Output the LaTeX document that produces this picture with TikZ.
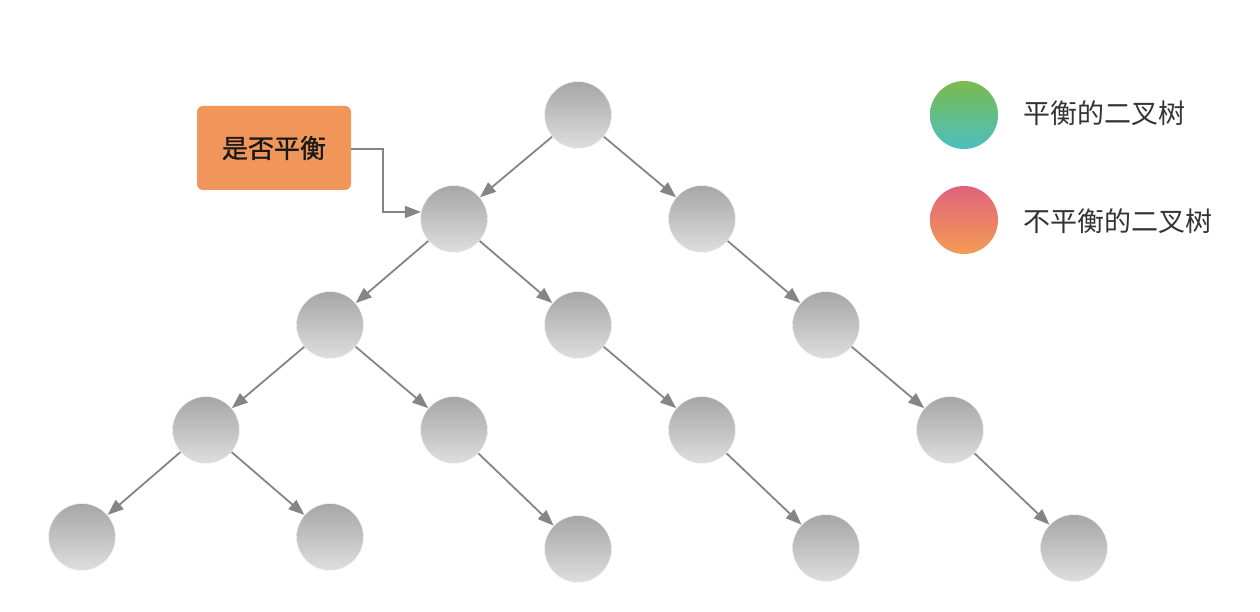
\documentclass[tikz,border=0pt]{standalone}
\usepackage{fontspec}
\newfontfamily\cjk{Noto Sans CJK SC}
\newfontfamily\cjkbold[FakeBold=1.2]{Noto Sans CJK SC}
\usetikzlibrary{arrows.meta}
\definecolor{nodetop}{HTML}{A6A6A6}
\definecolor{nodebot}{HTML}{DEDEDE}
\definecolor{edgegray}{HTML}{858585}
\definecolor{greentop}{HTML}{7ABB4B}
\definecolor{greenbot}{HTML}{4CBFC2}
\definecolor{redtop}{HTML}{E0637B}
\definecolor{redbot}{HTML}{F39C55}
\definecolor{boxorange}{HTML}{F0965A}
\definecolor{txtdark}{HTML}{333333}
\tikzset{
  treenode/.style={circle, minimum size=67pt, inner sep=0pt, top color=nodetop, bottom color=nodebot, draw=white!92!gray, line width=0.6pt},
  goodnode/.style={circle, minimum size=68pt, inner sep=0pt, top color=greentop, bottom color=greenbot},
  badnode/.style={circle, minimum size=68pt, inner sep=0pt, top color=redtop, bottom color=redbot},
  edge/.style={draw=edgegray, line width=1.8pt, -{Triangle[length=16pt,width=12pt]}},
  askbox/.style={rectangle, rounded corners=6pt, fill=boxorange, minimum width=154pt, minimum height=84pt, inner sep=0pt, font=\cjkbold\fontsize{26pt}{30pt}\selectfont, text=black!90},
  legtext/.style={anchor=west, inner sep=0pt, font=\cjk\fontsize{27pt}{32pt}\selectfont, text=txtdark}
}
\begin{document}
\begin{tikzpicture}[x=1pt,y=-1pt]
\useasboundingbox (0,0) rectangle (1260,612);
% tree nodes
\node[treenode] (r) at (578,115) {};
\node[treenode] (a) at (454,219) {};
\node[treenode] (b) at (702,219) {};
\node[treenode] (c) at (330,325) {};
\node[treenode] (d) at (578,325) {};
\node[treenode] (e) at (826,325) {};
\node[treenode] (f) at (206,430) {};
\node[treenode] (g) at (454,430) {};
\node[treenode] (h) at (702,430) {};
\node[treenode] (i) at (950,430) {};
\node[treenode] (j) at (82,537) {};
\node[treenode] (k) at (330,537) {};
\node[treenode] (l) at (578,549) {};
\node[treenode] (m) at (826,548) {};
\node[treenode] (n) at (1074,548) {};
% edges
\draw[edge] (r) -- (a);
\draw[edge] (r) -- (b);
\draw[edge] (a) -- (c);
\draw[edge] (a) -- (d);
\draw[edge] (b) -- (e);
\draw[edge] (c) -- (f);
\draw[edge] (c) -- (g);
\draw[edge] (d) -- (h);
\draw[edge] (e) -- (i);
\draw[edge] (f) -- (j);
\draw[edge] (f) -- (k);
\draw[edge] (g) -- (l);
\draw[edge] (h) -- (m);
\draw[edge] (i) -- (n);
% question box
\node[askbox] (q) at (274,148) {是否平衡};
\coordinate (qbend) at (383,149);
\draw[edge] (q.east |- qbend) -- (qbend) |- (a.168);
% legend
\node[goodnode] (lg) at (964,115) {};
\node[badnode] (lb) at (964,220) {};
\node[legtext] (tg) at (1023,113) {平衡的二叉树};
\node[legtext] (tb) at (1023,221) {不平衡的二叉树};
\end{tikzpicture}
\end{document}
